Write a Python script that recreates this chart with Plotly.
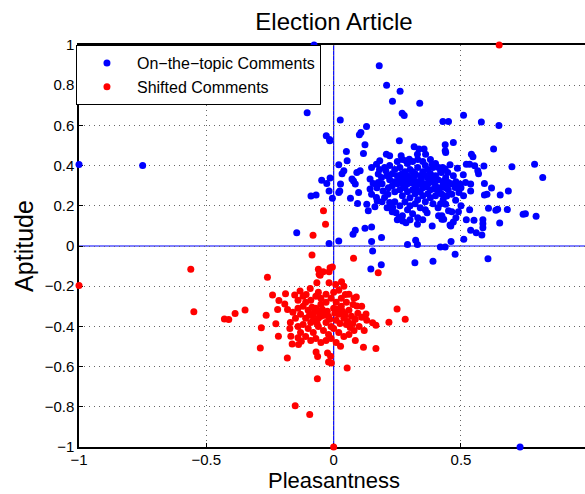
import plotly.graph_objects as go

# ---- data ----
blue_pts = [
    (-1.0, 0.405), (-0.75, 0.40), (0.732, -1.0), (-0.077, 1.0), (0.179, 0.897), (0.208, 0.80),
    (0.261, 0.77), (0.231, 0.72), (0.338, 0.71), (0.269, 0.66), (0.277, 0.649), (-0.104, 0.663),
    (0.026, 0.627), (0.51, 0.65), (0.429, 0.62), (0.451, 0.62), (0.58, 0.617), (0.649, 0.60),
    (0.129, 0.595), (0.107, 0.565), (0.101, 0.553), (-0.029, 0.549), (-0.016, 0.53), (-0.145, 0.066),
    (0.606, -0.063), (0.39, -0.076), (0.319, -0.083), (0.187, -0.093), (0.146, -0.115),
    (-0.015, 0.524), (0.123, 0.504), (0.117, 0.46), (0.05, 0.47), (0.02, 0.404), (0.053, 0.424),
    (0.04, 0.374), (0.033, 0.36), (-0.047, 0.327), (-0.027, 0.311), (-0.014, 0.338), (-0.018, 0.274),
    (-0.005, 0.238), (-0.089, 0.249), (-0.069, 0.254), (0.027, 0.308), (0.024, 0.274), (0.02, 0.266),
    (0.066, 0.238), (0.078, 0.324), (0.085, 0.308), (0.072, 0.333), (0.098, 0.266), (0.094, 0.211),
    (0.091, 0.366), (0.104, 0.374), (0.13, 0.208), (0.136, 0.175), (0.143, 0.283), (0.149, 0.258),
    (0.168, 0.241), (0.171, 0.224), (0.162, 0.195), (0.149, 0.391), (0.168, 0.407), (0.181, 0.424),
    (0.175, 0.358), (0.188, 0.341), (0.143, 0.333), (0.175, 0.316), (0.155, 0.311), (0.123, 0.088),
    (0.085, 0.078), (0.076, 0.058), (0.149, 0.095), (0.188, 0.042), (0.149, 0.022), (0.153, -0.025),
    (0.02, 0.025), (-0.018, 0.013), (0.207, 0.457), (0.22, 0.449), (0.258, 0.524), (0.316, 0.494),
    (0.335, 0.482), (0.355, 0.482), (0.361, 0.457), (0.329, 0.457), (0.438, 0.504), (0.438, 0.474),
    (0.265, 0.449), (0.284, 0.424), (0.297, 0.432), (0.387, 0.407), (0.412, 0.391), (0.438, 0.383),
    (0.194, 0.274), (0.213, 0.258), (0.2, 0.241), (0.22, 0.216), (0.232, 0.191), (0.245, 0.166),
    (0.258, 0.141), (0.271, 0.125), (0.284, 0.116), (0.329, 0.108), (0.367, 0.166), (0.387, 0.1),
    (0.412, 0.15), (0.425, 0.133), (0.29, 0.008), (0.322, 0.028), (0.329, 0.008), (0.419, -0.005),
    (0.438, -0.005),
    (0.47, 0.515), (0.44, 0.465), (0.541, 0.457), (0.547, 0.444), (0.628, 0.482), (0.521, 0.407),
    (0.534, 0.407), (0.554, 0.399), (0.566, 0.374), (0.569, 0.36), (0.59, 0.398), (0.70, 0.394),
    (0.789, 0.407), (0.821, 0.341), (0.486, 0.387), (0.457, 0.404), (0.428, 0.391), (0.448, 0.366),
    (0.423, 0.366), (0.509, 0.354), (0.496, 0.308), (0.477, 0.291), (0.492, 0.266), (0.451, 0.316),
    (0.432, 0.324), (0.464, 0.258), (0.444, 0.249), (0.425, 0.258), (0.538, 0.308), (0.538, 0.274),
    (0.518, 0.316), (0.592, 0.311), (0.62, 0.288), (0.592, 0.254), (0.602, 0.258), (0.654, 0.254),
    (0.686, 0.274), (0.479, 0.228), (0.44, 0.208), (0.451, 0.175), (0.464, 0.171), (0.425, 0.15),
    (0.432, 0.133), (0.534, 0.18), (0.608, 0.188), (0.637, 0.178), (0.644, 0.183), (0.682, 0.181),
    (0.744, 0.158), (0.753, 0.161), (0.795, 0.148), (0.521, 0.131), (0.551, 0.128), (0.586, 0.131),
    (0.586, 0.111), (0.586, 0.091), (0.652, 0.115), (0.538, 0.078), (0.56, 0.066), (0.582, 0.055),
    (0.457, 0.105), (0.461, 0.022), (0.511, 0.033), (0.477, -0.041),
    (0.22, 0.40), (0.24, 0.38), (0.25, 0.35), (0.26, 0.39), (0.27, 0.36), (0.28, 0.33), (0.29, 0.31),
    (0.30, 0.34), (0.31, 0.37), (0.32, 0.30), (0.33, 0.32), (0.34, 0.35), (0.35, 0.29), (0.36, 0.31),
    (0.37, 0.34), (0.38, 0.28), (0.39, 0.32), (0.40, 0.30), (0.41, 0.27), (0.23, 0.30), (0.24, 0.27),
    (0.25, 0.31), (0.26, 0.28), (0.27, 0.25), (0.28, 0.29), (0.29, 0.27), (0.30, 0.24), (0.31, 0.28),
    (0.32, 0.26), (0.33, 0.23), (0.34, 0.27), (0.35, 0.25), (0.36, 0.22), (0.37, 0.26), (0.38, 0.24),
    (0.39, 0.21), (0.40, 0.25), (0.42, 0.29), (0.43, 0.23), (0.21, 0.35), (0.22, 0.33), (0.23, 0.36),
    (0.24, 0.32), (0.26, 0.33), (0.27, 0.31), (0.28, 0.37), (0.29, 0.35), (0.30, 0.38), (0.31, 0.33),
    (0.32, 0.36), (0.33, 0.39), (0.34, 0.31), (0.35, 0.37), (0.36, 0.40), (0.37, 0.38), (0.38, 0.36),
    (0.39, 0.39), (0.40, 0.35), (0.41, 0.33), (0.42, 0.37), (0.43, 0.31), (0.44, 0.29), (0.25, 0.42),
    (0.27, 0.43), (0.29, 0.41), (0.31, 0.42), (0.33, 0.43), (0.35, 0.42), (0.38, 0.43), (0.40, 0.41),
    (0.24, 0.22), (0.26, 0.20), (0.28, 0.22), (0.30, 0.20), (0.32, 0.21), (0.34, 0.19), (0.36, 0.18),
    (0.29, 0.18), (0.31, 0.16), (0.33, 0.14), (0.35, 0.13), (0.27, 0.15), (0.30, 0.13), (0.285, 0.345),
    (0.295, 0.325), (0.305, 0.315), (0.275, 0.305), (0.315, 0.345), (0.325, 0.285), (0.345, 0.335),
    (0.265, 0.355), (0.355, 0.355), (0.365, 0.295), (0.375, 0.315), (0.385, 0.345), (0.395, 0.285),
    (0.205, 0.375), (0.215, 0.29), (0.19, 0.31), (0.2, 0.39), (0.18, 0.38), (0.17, 0.29), (0.19, 0.22),
    (0.21, 0.19), (0.23, 0.17), (0.25, 0.13), (0.42, 0.21), (0.41, 0.19), (0.44, 0.34), (0.45, 0.28),
    (0.46, 0.31), (0.47, 0.35), (0.48, 0.32), (0.5, 0.29), (0.51, 0.25), (0.5, 0.20), (0.49, 0.17),
    (0.48, 0.14), (0.47, 0.12), (0.46, 0.10),
]

red_pts = [
    (0.65, 1.0), (0.0, -1.0), (-1.0, -0.196), (-0.561, -0.116), (-0.549, -0.327), (-0.04, 0.175),
    (-0.032, 0.108), (-0.081, 0.053), (0.281, -0.364), (-0.064, -0.66), (-0.151, -0.795),
    (-0.094, -0.838),
    (-0.085, -0.045), (0.078, -0.061), (0.175, -0.133), (-0.26, -0.155), (-0.06, -0.116),
    (-0.057, -0.141), (-0.053, -0.145), (-0.041, -0.128), (-0.018, -0.128), (-0.005, -0.105),
    (-0.014, -0.108), (-0.066, -0.183), (-0.018, -0.183), (0.008, -0.191), (0.031, -0.178),
    (0.04, -0.2), (-0.092, -0.211), (-0.132, -0.224), (-0.108, -0.241), (-0.153, -0.244),
    (-0.189, -0.238), (-0.215, -0.271), (-0.24, -0.244), (-0.22, -0.316), (-0.192, -0.288),
    (-0.181, -0.316), (0.046, -0.241), (0.089, -0.254), (0.091, -0.299), (0.076, -0.291),
    (0.11, -0.354), (0.127, -0.338), (0.153, -0.382), (0.166, -0.394), (0.217, -0.379),
    (0.249, -0.313), (-0.348, -0.319), (-0.387, -0.336), (-0.429, -0.363), (-0.412, -0.366),
    (-0.265, -0.344), (-0.227, -0.387), (-0.284, -0.407), (-0.217, -0.449), (-0.288, -0.507),
    (-0.182, -0.557), (-0.163, -0.487), (-0.138, -0.49), (-0.069, -0.527), (-0.063, -0.55),
    (-0.024, -0.532), (-0.012, -0.549), (-0.02, -0.577), (-0.009, -0.582), (0.027, -0.499),
    (0.085, -0.47), (0.117, -0.504), (0.166, -0.51), (0.053, -0.607), (-0.172, -0.41),
    (-0.168, -0.449), (-0.14, -0.457), (-0.127, -0.474),
    (-0.12, -0.30), (-0.10, -0.32), (-0.08, -0.34), (-0.06, -0.36), (-0.04, -0.33), (-0.02, -0.35),
    (0.0, -0.31), (0.02, -0.34), (0.04, -0.36), (0.06, -0.32), (-0.11, -0.36), (-0.09, -0.38),
    (-0.07, -0.31), (-0.05, -0.29), (-0.03, -0.38), (-0.01, -0.40), (0.01, -0.37), (0.03, -0.30),
    (0.05, -0.39), (0.07, -0.35), (-0.13, -0.34), (-0.12, -0.39), (-0.10, -0.41), (-0.08, -0.43),
    (-0.06, -0.40), (-0.04, -0.42), (-0.02, -0.44), (0.0, -0.41), (0.02, -0.43), (0.04, -0.45),
    (-0.09, -0.27), (-0.07, -0.25), (-0.05, -0.26), (-0.03, -0.28), (-0.01, -0.26), (0.01, -0.28),
    (0.03, -0.26), (0.05, -0.28), (-0.11, -0.28), (-0.06, -0.23), (-0.03, -0.24), (0.0, -0.23),
    (0.02, -0.22), (-0.08, -0.37), (-0.05, -0.35), (-0.035, -0.345), (-0.045, -0.315),
    (-0.055, -0.335), (-0.025, -0.325), (-0.015, -0.365), (-0.065, -0.385), (-0.075, -0.325),
    (-0.085, -0.305), (-0.095, -0.345), (0.005, -0.335), (0.015, -0.315), (0.025, -0.385),
    (0.035, -0.325), (0.045, -0.345), (0.055, -0.375), (0.065, -0.405), (0.075, -0.385),
    (0.085, -0.365), (0.095, -0.335), (0.08, -0.42), (0.06, -0.44), (-0.14, -0.31), (-0.15, -0.36),
    (-0.14, -0.40), (-0.13, -0.43), (-0.11, -0.45), (-0.09, -0.47), (-0.07, -0.46), (-0.05, -0.48),
    (-0.03, -0.47), (-0.01, -0.46), (0.01, -0.48), (-0.16, -0.33), (-0.17, -0.38), (0.1, -0.40),
    (0.12, -0.42), (0.11, -0.30), (0.13, -0.37), (-0.12, -0.25), (-0.14, -0.27), (0.08, -0.26),
    (0.06, -0.24),
]

blue_x = [p[0] for p in blue_pts]
blue_y = [p[1] for p in blue_pts]
red_x = [p[0] for p in red_pts]
red_y = [p[1] for p in red_pts]

x_ticks = [-1, -0.5, 0, 0.5]
x_labels = ["\u22121", "\u22120.5", "0", "0.5"]
y_ticks = [-1, -0.8, -0.6, -0.4, -0.2, 0, 0.2, 0.4, 0.6, 0.8, 1]
y_labels = ["\u22121", "\u22120.8", "\u22120.6", "\u22120.4", "\u22120.2", "0", "0.2", "0.4", "0.6", "0.8", "1"]

FONT = "Liberation Sans, Arial, Helvetica, sans-serif"

fig = go.Figure()
fig.add_trace(go.Scatter(x=blue_x, y=blue_y, mode="markers", name="On\u2212the\u2212topic Comments",
                         marker=dict(color="#0000FF", size=7, line=dict(width=0)), cliponaxis=False))
fig.add_trace(go.Scatter(x=red_x, y=red_y, mode="markers", name="Shifted Comments",
                         marker=dict(color="#FF0000", size=7, line=dict(width=0)), cliponaxis=False))

# blue reference lines through the origin (x = 0 and y = 0)
fig.add_shape(type="line", xref="x", yref="paper", x0=0, x1=0, y0=0, y1=1,
              line=dict(color="#0000FF", width=1.2), layer="below")
fig.add_shape(type="line", xref="paper", yref="y", x0=0, x1=1, y0=0, y1=0,
              line=dict(color="#0000FF", width=1.2), layer="below")

# x-axis title as a positioned text label
fig.add_annotation(text="Pleasantness", xref="paper", yref="paper",
                   x=(334 - 79) / 506, y=-(467 - 447) / 402, xanchor="center", yanchor="top",
                   showarrow=False, borderpad=0,
                   font=dict(family=FONT, size=22, color="black"))

axis_common = dict(
    showline=True, linecolor="black", linewidth=1.5,
    showgrid=True, gridcolor="#666666", griddash="1px,4px", gridwidth=1,
    zeroline=False,
    ticks="inside", ticklen=4, tickcolor="black",
    tickfont=dict(family=FONT, size=15, color="black"),
    layer="below traces",
)

fig.update_layout(
    width=585, height=494,
    margin=dict(l=79, r=0, t=45, b=47),
    paper_bgcolor="white", plot_bgcolor="white",
    font=dict(family=FONT, color="black"),
    title=dict(text="Election Article", font=dict(family=FONT, size=24, color="black"),
               x=334 / 585, xref="container", xanchor="center",
               y=1 - 22 / 494, yref="container", yanchor="middle"),
    xaxis=dict(range=[-1, 0.987], tickvals=x_ticks, ticktext=x_labels, mirror=True,
               automargin=False, ticklabelstandoff=-2, **axis_common),
    yaxis=dict(range=[-1, 1], tickvals=y_ticks, ticktext=y_labels, mirror=False,
               title=dict(text="Aptitude", font=dict(family=FONT, size=25), standoff=4),
               **axis_common),
    legend=dict(x=-0.006, y=1.0, xanchor="left", yanchor="top", bgcolor="white",
                bordercolor="black", borderwidth=1,
                font=dict(family=FONT, size=16, color="black"), itemwidth=50,
                tracegroupgap=0),
    showlegend=True,
)

fig.write_html("out.html")
